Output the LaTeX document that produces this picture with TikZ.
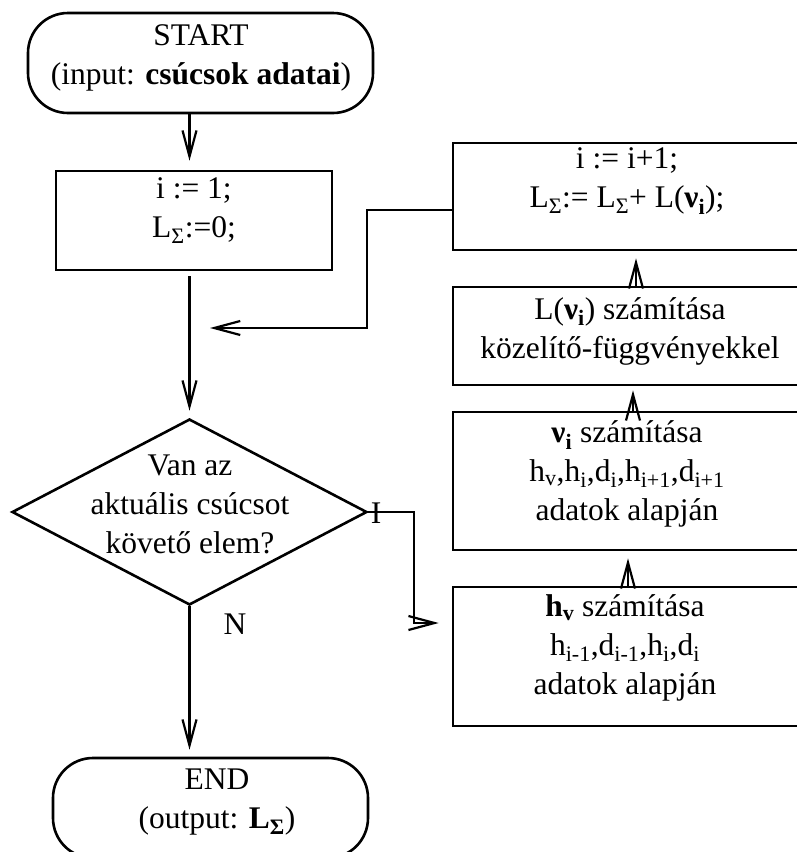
\documentclass[tikz,border=0pt]{standalone}
\usepackage{fontspec}
\setmainfont{Liberation Serif}
\usetikzlibrary{arrows.meta,shapes.geometric}
\begin{document}
\begin{tikzpicture}[x=1pt,y=-1pt,
  every node/.style={font=\fontsize{31.5}{39}\selectfont},
  shapebox/.style={draw, line width=2.6pt, inner sep=0pt},
  termbox/.style={shapebox, rounded corners=40pt},
  txt/.style={align=center, inner sep=0pt},
  flow/.style={line width=2.2pt, -{Straight Barb[length=26pt,width=14pt]}, shorten >=7pt},
]
\useasboundingbox (0,0) rectangle (796,852);

% left column
\node[termbox, minimum width=345pt, minimum height=100pt] (start) at (200.5,63) {};
\node[txt] (startT) at (201,57.5) {START\\(input: \textbf{csúcsok adatai})};

\node[shapebox, minimum width=276pt, minimum height=99pt] (init) at (194,220.5) {};
\node[txt] (initT) at (194,211) {i := 1;\\L\textsubscript{Σ}:=0;};

\node[shapebox, diamond, minimum width=355pt, minimum height=186pt] (dec) at (189.5,512) {};
\node[txt] (decT) at (190,504) {Van az\\aktuális csúcsot\\követő elem?};

\node[termbox, minimum width=315pt, minimum height=100pt] (end) at (210.5,808) {};
\node[txt] (endT) at (217,802) {END\\(output: \textbf{L\textsubscript{Σ}})};

% right column
\node[shapebox, minimum width=354pt, minimum height=107pt] (inc) at (630,196.5) {};
\node[txt] (incT) at (627,181) {i := i+1;\\L\textsubscript{Σ}:= L\textsubscript{Σ}+ L(\textbf{ν\textsubscript{i}});};

\node[shapebox, minimum width=354pt, minimum height=98pt] (calcL) at (630,336) {};
\node[txt] (calcLT) at (630,331) {L(\textbf{ν\textsubscript{i}}) számítása\\közelítő-függvényekkel};

\node[shapebox, minimum width=354pt, minimum height=138pt] (calcNu) at (630,481) {};
\node[txt] (calcNuT) at (627,474) {\textbf{ν\textsubscript{i}} számítása\\h\textsubscript{v},h\textsubscript{i},d\textsubscript{i},h\textsubscript{i+1},d\textsubscript{i+1}\\adatok alapján};

\node[shapebox, minimum width=354pt, minimum height=139pt] (calcH) at (630,656.5) {};
\node[txt] (calcHT) at (625,648) {\textbf{h\textsubscript{v}} számítása\\h\textsubscript{i-1},d\textsubscript{i-1},h\textsubscript{i},d\textsubscript{i}\\adatok alapján};

% branch labels
\node[txt] (yesL) at (376,513) {I};
\node[txt] (noL) at (235,624) {N};

% connectors
\coordinate (loopEnd) at (210,328);
\draw[flow, shorten >=9pt] (start.south -| dec) -- (init.north -| dec);
\draw[flow, shorten <=5pt] (init.south -| dec) -- (dec.north);
\draw[flow] (dec.south) -- (end.north -| dec);
\draw[flow, shorten >=0pt] ([yshift=-13.5pt]inc.west) -- ++(-85,0) |- (loopEnd);
\draw[flow, shorten >=13pt] (dec.east) -- ++(46,0) |- ([yshift=33.5pt]calcH.west);
\draw[flow] ([xshift=-2pt]calcH.north) -- ([xshift=-2pt]calcNu.south);
\draw[flow, shorten >=4pt] ([xshift=3pt]calcNu.north) -- ([xshift=3pt]calcL.south);
\draw[flow] ([xshift=6pt]calcL.north) -- ([xshift=6pt]inc.south);
\end{tikzpicture}
\end{document}
